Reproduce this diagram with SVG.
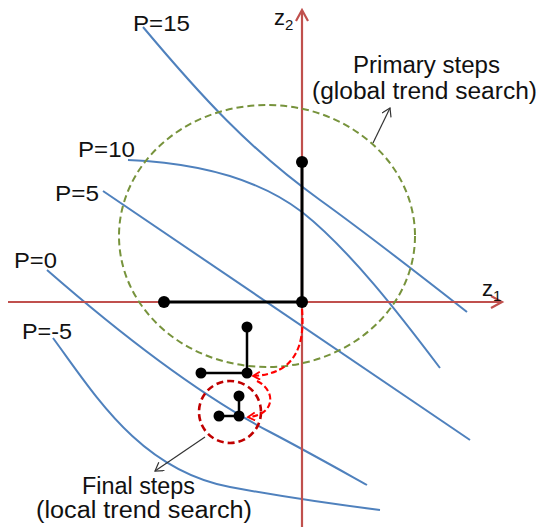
<svg xmlns="http://www.w3.org/2000/svg" width="539" height="529" viewBox="0 0 539 529">
<style>
text{font-family:"Liberation Sans",Arial,sans-serif;fill:#111}
.lbl{font-size:22px}
.note{font-size:23px}
.contour{fill:none;stroke:#4F81BD;stroke-width:2}
.axis{fill:none;stroke:#C0504D;stroke-width:2.2}
.step{fill:none;stroke:#000;stroke-linecap:round}
.dot{fill:#000}
.rdash{fill:none;stroke:#FF0000;stroke-width:2.1;stroke-dasharray:6 3}
.ptr{fill:none;stroke:#333;stroke-width:1.2}
</style>
<defs>
<marker id="redhead" markerWidth="10" markerHeight="10" refX="8" refY="4" orient="auto" markerUnits="userSpaceOnUse">
<path d="M1,0 L8,4 L1,8" fill="none" stroke="#FF0000" stroke-width="1.8"/>
</marker>
<marker id="blackhead" markerWidth="12" markerHeight="12" refX="9" refY="5" orient="auto" markerUnits="userSpaceOnUse">
<path d="M1,0 L9,5 L1,10" fill="none" stroke="#333" stroke-width="1.2"/>
</marker>
</defs>
<rect width="539" height="529" fill="#fff"/>

<g id="contours">
<path class="contour" d="M143,27 C200,95 250,150 320,200 C370,236 430,283 467,312"/>
<path class="contour" d="M128,160 C200,163 260,180 302,212 C350,250 400,315 440,368"/>
<path class="contour" d="M103,191 L470,440"/>
<path class="contour" d="M47,270 C110,325 190,390 270,432 C310,453 340,470 367,485"/>
<path class="contour" d="M53,338 C95,395 140,470 230,487 C300,500 340,505 380,510"/>
</g>

<g id="contour-labels">
<text class="lbl" x="133" y="31" textLength="57" lengthAdjust="spacingAndGlyphs">P=15</text>
<text class="lbl" x="78" y="157" textLength="57" lengthAdjust="spacingAndGlyphs">P=10</text>
<text class="lbl" x="55" y="201" textLength="44" lengthAdjust="spacingAndGlyphs">P=5</text>
<text class="lbl" x="14" y="268" textLength="43" lengthAdjust="spacingAndGlyphs">P=0</text>
<text class="lbl" x="22" y="339" textLength="50" lengthAdjust="spacingAndGlyphs">P=-5</text>
</g>

<g id="axes">
<path class="axis" d="M302,527 L302,11"/>
<path class="axis" d="M296,21 L302,10 L308,21" stroke-width="2.6"/>
<path class="axis" d="M8,302 L501,302"/>
<path class="axis" d="M491,296 L502,302 L491,308" stroke-width="2.6"/>
<text x="274" y="25" font-size="22">z<tspan font-size="15" dy="5">2</tspan></text>
<text x="482" y="296" font-size="22">z<tspan font-size="15" dy="5">1</tspan></text>
</g>

<g id="primary-region">
<ellipse cx="267" cy="236" rx="148" ry="131" fill="none" stroke="#77933C" stroke-width="2" stroke-dasharray="7 4"/>
</g>

<g id="final-region">
<circle cx="230" cy="412" r="31" fill="none" stroke="#C00000" stroke-width="2.6" stroke-dasharray="7 4"/>
</g>

<g id="primary-steps">
<path class="step" d="M164,302 L302,302 L302,162" stroke-width="3"/>
<circle class="dot" cx="164" cy="302" r="6"/>
<circle class="dot" cx="302" cy="302" r="6"/>
<circle class="dot" cx="302" cy="162" r="6"/>
</g>

<g id="secondary-steps">
<path class="step" d="M247,327 L247,373 L201,373" stroke-width="2.5"/>
<circle class="dot" cx="247" cy="327" r="5.5"/>
<circle class="dot" cx="201" cy="373" r="5.5"/>
<circle class="dot" cx="247" cy="373" r="5.5"/>
</g>

<g id="final-steps">
<path class="step" d="M239,396 L239,416 L219,416" stroke-width="2.5"/>
<circle class="dot" cx="239" cy="396" r="5.5"/>
<circle class="dot" cx="219" cy="416" r="5.5"/>
<circle class="dot" cx="239" cy="416" r="5.5"/>
</g>

<g id="connectors">
<path class="rdash" d="M302,309 C305,345 296,374 253,376" marker-end="url(#redhead)"/>
<path class="rdash" d="M257,381 C276,390 276,415 248,417" marker-end="url(#redhead)"/>
<path class="ptr" d="M373,143 L390,108" marker-end="url(#blackhead)"/>
<path class="ptr" d="M205,437 L155,471" marker-end="url(#blackhead)"/>
</g>

<g id="annotations">
<text class="note" x="353" y="73" textLength="147" lengthAdjust="spacingAndGlyphs">Primary steps</text>
<text class="note" x="312" y="99" textLength="225" lengthAdjust="spacingAndGlyphs">(global trend search)</text>
<text class="note" x="82" y="494" textLength="113" lengthAdjust="spacingAndGlyphs">Final steps</text>
<text class="note" x="36" y="518" textLength="216" lengthAdjust="spacingAndGlyphs">(local trend search)</text>
</g>
</svg>
